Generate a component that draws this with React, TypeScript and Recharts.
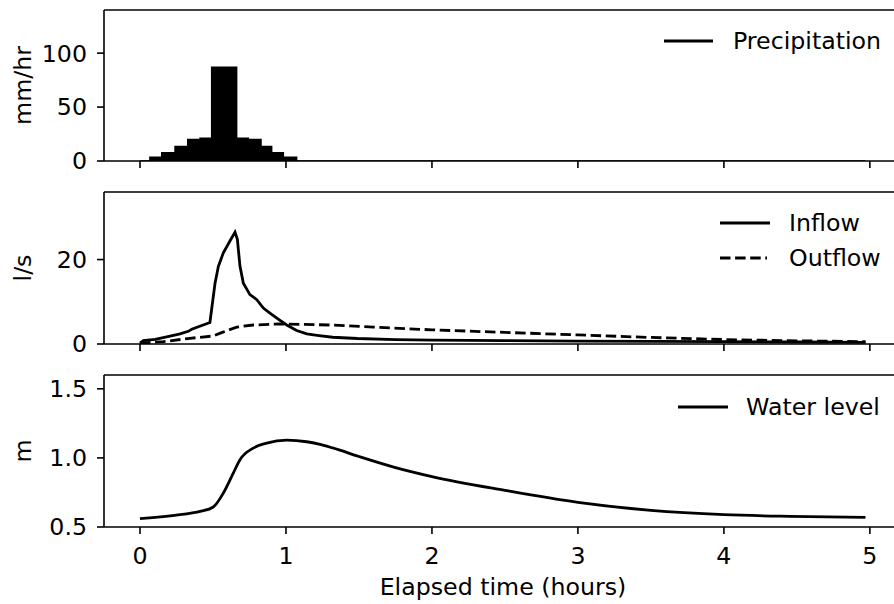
import React from "react";
import { ComposedChart, Area, Line, XAxis, YAxis, ReferenceLine } from "recharts";

// time in hours
const precipTime = [0, 0.068, 0.149, 0.24, 0.327, 0.411, 0.491, 0.662, 0.742, 0.829, 0.902, 0.982, 1.073, 4.97];
const precipValue = [0, 3.5, 7.7, 13.5, 20, 21, 87, 21, 20, 13.5, 7.7, 3.5, 0, 0];

const inflowTime = [0, 0.023, 0.103, 0.183, 0.274, 0.331, 0.354, 0.479, 0.514, 0.537, 0.571, 0.616, 0.651, 0.667, 0.685, 0.708, 0.753, 0.8, 0.845, 0.89, 0.947, 1.005, 1.073, 1.142, 1.226, 1.32, 1.49, 1.75, 2.0, 2.5, 3.0, 3.5, 4.0, 4.5, 4.97];
const inflowValue = [0.2, 0.8, 1.1, 1.7, 2.4, 3.0, 3.5, 5.1, 14.4, 18.4, 21.6, 24.4, 26.5, 24.8, 18.4, 14.4, 11.7, 10.5, 8.5, 7.3, 5.9, 4.5, 3.2, 2.4, 2.0, 1.6, 1.3, 1.05, 0.9, 0.8, 0.7, 0.62, 0.55, 0.47, 0.4];

const outflowTime = [0, 0.16, 0.342, 0.502, 0.559, 0.662, 0.776, 0.959, 1.3, 1.6, 2.0, 2.5, 3.0, 3.5, 4.0, 4.5, 4.97];
const outflowValue = [0.2, 0.55, 1.35, 1.9, 2.7, 4.0, 4.5, 4.75, 4.5, 4.0, 3.35, 2.75, 2.15, 1.55, 1.05, 0.75, 0.55];

const levelTime = [0, 0.274, 0.411, 0.502, 0.571, 0.639, 0.685, 0.776, 0.868, 1.005, 1.142, 1.226, 1.32, 1.5, 1.75, 2.0, 2.5, 3.0, 3.5, 4.0, 4.45, 4.97];
const levelValue = [0.56, 0.589, 0.613, 0.645, 0.746, 0.89, 0.987, 1.071, 1.107, 1.128, 1.117, 1.1, 1.072, 1.01, 0.93, 0.865, 0.765, 0.678, 0.62, 0.589, 0.577, 0.57];

const xTicks = [0, 1, 2, 3, 4, 5];
const precipTicks = [0, 50, 100];
const flowTicks = [0, 20];
const levelTicks = [0.5, 1.0, 1.5];

const zip = (t: number[], v: number[]) => t.map((x, i) => ({ t: x, v: v[i] }));
const precipData = zip(precipTime, precipValue);
const inflowData = zip(inflowTime, inflowValue);
const outflowData = zip(outflowTime, outflowValue);
const levelData = zip(levelTime, levelValue);

const FONT = 23.7;
const LW = 2.8;
const DASH = "10.5 4.6";
const SPINE = 1.6;
const X_DOMAIN: [number, number] = [-0.2466, 5.22];
const CHART_W = 910;
const MARGIN = { top: 10, right: 8, left: 44, bottom: 0 };

function xAxis(showLabels: boolean, height: number) {
  return (
    <XAxis
      type="number"
      dataKey="t"
      domain={X_DOMAIN}
      ticks={xTicks}
      allowDataOverflow
      height={height}
      tickSize={7}
      tickMargin={13}
      tickLine={{ stroke: "#000", strokeWidth: SPINE }}
      axisLine={{ stroke: "#000", strokeWidth: SPINE }}
      tick={{ fill: "#000", fontSize: FONT }}
      tickFormatter={(v: number) => (showLabels ? String(v) : "")}
    />
  );
}

function yAxis(domain: [number, number], ticks: number[], fmt: (v: number) => string) {
  return (
    <YAxis
      type="number"
      domain={domain}
      ticks={ticks}
      allowDataOverflow
      width={60}
      tickSize={7}
      tickMargin={10}
      tickLine={{ stroke: "#000", strokeWidth: SPINE }}
      axisLine={{ stroke: "#000", strokeWidth: SPINE }}
      tick={{ fill: "#000", fontSize: FONT }}
      tickFormatter={fmt}
    />
  );
}

export default function App() {
  return (
    <div
      style={{
        position: "absolute", left: 0, top: 0, width: 894, height: 604,
        overflow: "hidden", background: "#fff", fontFamily: "'DejaVu Sans', sans-serif",
      }}
    >
      {/* Precipitation */}
      <div style={{ position: "absolute", left: 0, top: 0 }}>
        <ComposedChart width={CHART_W} height={181} margin={MARGIN}>
          {xAxis(false, 20)}
          {yAxis([0, 140], precipTicks, (v) => String(v))}
          <ReferenceLine y={140} stroke="#000" strokeWidth={SPINE} />
          <Area
            data={precipData}
            dataKey="v"
            type="stepAfter"
            stroke="#000"
            strokeWidth={1.5}
            fill="#000"
            fillOpacity={1}
            dot={false}
            activeDot={false}
            isAnimationActive={false}
          />
        </ComposedChart>
      </div>

      {/* Inflow / Outflow */}
      <div style={{ position: "absolute", left: 0, top: 182 }}>
        <ComposedChart width={CHART_W} height={182} margin={MARGIN}>
          {xAxis(false, 20)}
          {yAxis([0, 36], flowTicks, (v) => String(v))}
          <ReferenceLine y={36} stroke="#000" strokeWidth={SPINE} />
          <Line data={inflowData} dataKey="v" type="linear" stroke="#000" strokeWidth={LW}
            dot={false} activeDot={false} isAnimationActive={false} />
          <Line data={outflowData} dataKey="v" type="linear" stroke="#000" strokeWidth={LW}
            strokeDasharray={DASH} dot={false} activeDot={false} isAnimationActive={false} />
        </ComposedChart>
      </div>

      {/* Water level */}
      <div style={{ position: "absolute", left: 0, top: 365 }}>
        <ComposedChart width={CHART_W} height={239} margin={MARGIN}>
          {xAxis(true, 77)}
          {yAxis([0.5, 1.6], levelTicks, (v) => v.toFixed(1))}
          <ReferenceLine y={1.6} stroke="#000" strokeWidth={SPINE} />
          <Line data={levelData} dataKey="v" type="monotone" stroke="#000" strokeWidth={LW}
            dot={false} activeDot={false} isAnimationActive={false} />
        </ComposedChart>
      </div>

      {/* axis labels and legends */}
      <svg width={894} height={604} style={{ position: "absolute", left: 0, top: 0, pointerEvents: "none" }}
        fontFamily="'DejaVu Sans', sans-serif" fontSize={FONT}>
        <text transform="translate(30.5, 85.5) rotate(-90)" textAnchor="middle" fill="#000">mm/hr</text>
        <text transform="translate(30.5, 268) rotate(-90)" textAnchor="middle" fill="#000">l/s</text>
        <text transform="translate(30.5, 451) rotate(-90)" textAnchor="middle" fill="#000">m</text>
        <text x={503} y={595} textAnchor="middle" fill="#000">Elapsed time (hours)</text>

        <line x1={664} x2={713} y1={41} y2={41} stroke="#000" strokeWidth={LW} />
        <text x={733} y={41} dominantBaseline="central" fill="#000">Precipitation</text>

        <line x1={720} x2={770} y1={223} y2={223} stroke="#000" strokeWidth={LW} />
        <text x={789} y={223} dominantBaseline="central" fill="#000">Inflow</text>
        <line x1={720} x2={767} y1={258} y2={258} stroke="#000" strokeWidth={LW} strokeDasharray={DASH} />
        <text x={789} y={258} dominantBaseline="central" fill="#000">Outflow</text>

        <line x1={678} x2={728} y1={407} y2={407} stroke="#000" strokeWidth={LW} />
        <text x={746} y={407} dominantBaseline="central" fill="#000">Water level</text>
      </svg>
    </div>
  );
}
